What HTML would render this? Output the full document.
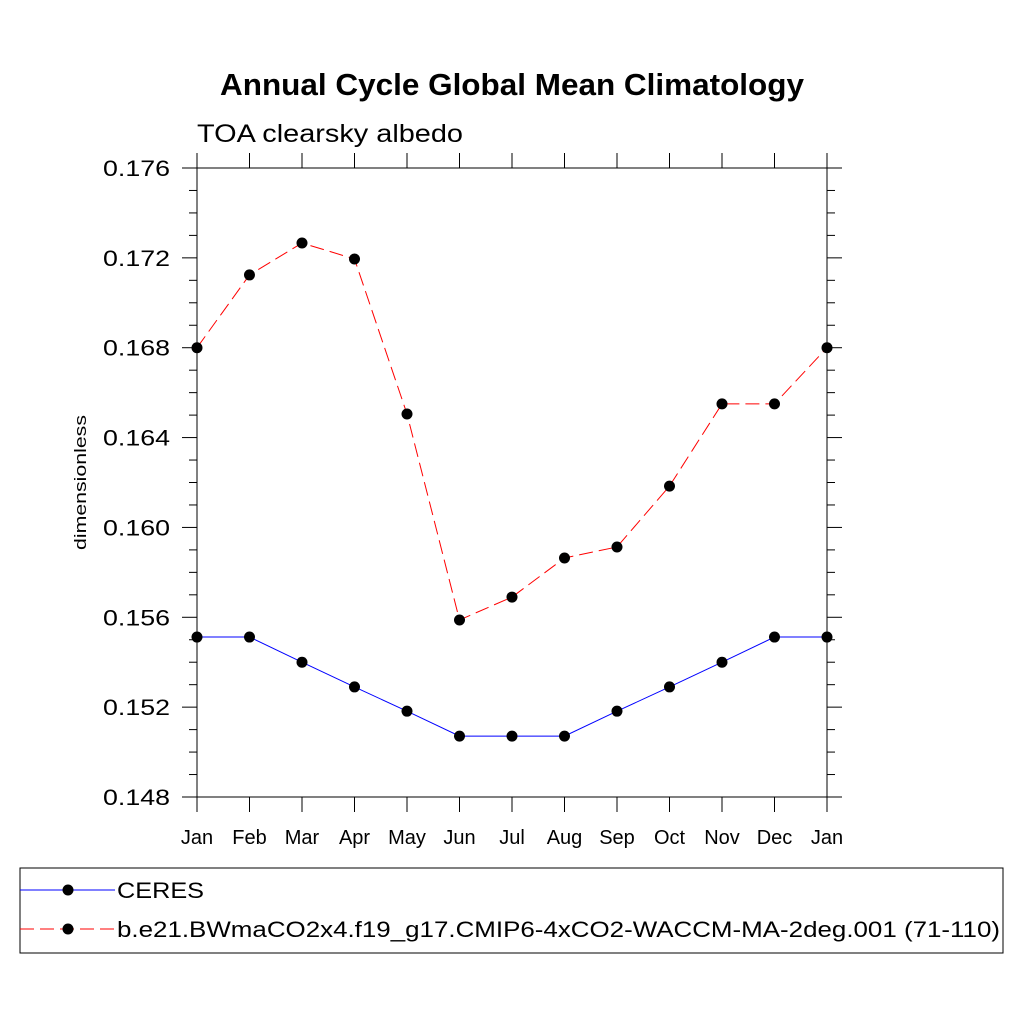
<!DOCTYPE html>
<html><head><meta charset="utf-8"><style>
html,body{margin:0;padding:0;background:#fff}
svg text{font-family:"Liberation Sans",sans-serif}
</style></head><body>
<svg id="chart" width="1024" height="1024" xmlns="http://www.w3.org/2000/svg">
<text x="220" y="95" font-size="31" font-weight="bold" textLength="584" lengthAdjust="spacingAndGlyphs">Annual Cycle Global Mean Climatology</text>
<text x="197" y="142" font-size="25" textLength="266" lengthAdjust="spacingAndGlyphs">TOA clearsky albedo</text>
<text transform="translate(86,550) rotate(-90)" font-size="17" textLength="135" lengthAdjust="spacingAndGlyphs">dimensionless</text>
<g id="axes"></g>
<g id="series"></g>
<rect x="20" y="868" width="983" height="85" fill="none" stroke="#000" stroke-width="1"/>
<g>
<line x1="20" y1="890" x2="115" y2="890" stroke="#0000ff" stroke-width="1"/>
<circle cx="68" cy="890" r="5.5" fill="#000"/>
<text x="117" y="898" font-size="22" textLength="87" lengthAdjust="spacingAndGlyphs">CERES</text>
</g>
<g>
<line x1="20" y1="929" x2="115" y2="929" stroke="#ff0000" stroke-width="1" stroke-dasharray="14,6"/>
<circle cx="68" cy="929" r="5.5" fill="#000"/>
<text x="117" y="937" font-size="22" textLength="883" lengthAdjust="spacingAndGlyphs">b.e21.BWmaCO2x4.f19_g17.CMIP6-4xCO2-WACCM-MA-2deg.001 (71-110)</text>
</g>
</svg>
<script>
const months=["Jan","Feb","Mar","Apr","May","Jun","Jul","Aug","Sep","Oct","Nov","Dec","Jan"];
const yTicks=[0.148,0.152,0.156,0.160,0.164,0.168,0.172,0.176];
const yTickLabels=["0.148","0.152","0.156","0.160","0.164","0.168","0.172","0.176"];
const ceres=[0.15512,0.15512,0.1540,0.1529,0.15182,0.15071,0.15071,0.15071,0.15182,0.1529,0.1540,0.15512,0.15512];
const model=[0.1680,0.17124,0.17266,0.17195,0.16505,0.15588,0.1569,0.15864,0.15913,0.16184,0.1655,0.1655,0.1680];
const NS="http://www.w3.org/2000/svg";
const X0=197,X1=827,Y0=797,Y1=168,YMIN=0.148,YMAX=0.176;
const xs=i=>X0+i*(X1-X0)/(months.length-1);
const ys=v=>Y0-(v-YMIN)/(YMAX-YMIN)*(Y0-Y1);
function mk(tag,at,parent){const e=document.createElementNS(NS,tag);for(const k in at)e.setAttribute(k,at[k]);parent.appendChild(e);return e;}
const ax=document.getElementById('axes');
const frame=mk('rect',{x:X0,y:Y1,width:X1-X0,height:Y0-Y1,fill:'none',stroke:'#000','stroke-width':1},ax);


months.forEach((m,i)=>{const x=xs(i);
mk('line',{x1:x,y1:Y0,x2:x,y2:Y0+15,stroke:'#000'},ax);
mk('line',{x1:x,y1:Y1,x2:x,y2:Y1-15,stroke:'#000'},ax);
const t=mk('text',{x:x,y:844,'text-anchor':'middle','font-size':20},ax);t.textContent=m;

});
for(let v=YMIN;v<=YMAX+1e-9;v+=0.001){const y=ys(v);const major=Math.abs(Math.round(v*1000)%4)===0;const L=major?15:8;
mk('line',{x1:X0,y1:y,x2:X0-L,y2:y,stroke:'#000'},ax);
mk('line',{x1:X1,y1:y,x2:X1+L,y2:y,stroke:'#000'},ax);}
yTicks.forEach((v,i)=>{const t=mk('text',{x:103,y:ys(v)+8,'font-size':22,textLength:67,lengthAdjust:'spacingAndGlyphs'},ax);t.textContent=yTickLabels[i];

});
const sg=document.getElementById('series');
function draw(data,color,dash,name){const g=mk('g',{},sg);


mk('polyline',{points:data.map((v,i)=>xs(i)+','+ys(v)).join(' '),fill:'none',stroke:color,'stroke-width':1,'stroke-dasharray':dash},g);
data.forEach((v,i)=>{const c=mk('circle',{cx:xs(i),cy:ys(v),r:5.5,fill:'#000'},g);

});}
draw(ceres,'#0000ff','none','ceres-series');
draw(model,'#ff0000','14,6','model-series');
</script>
</body></html>
